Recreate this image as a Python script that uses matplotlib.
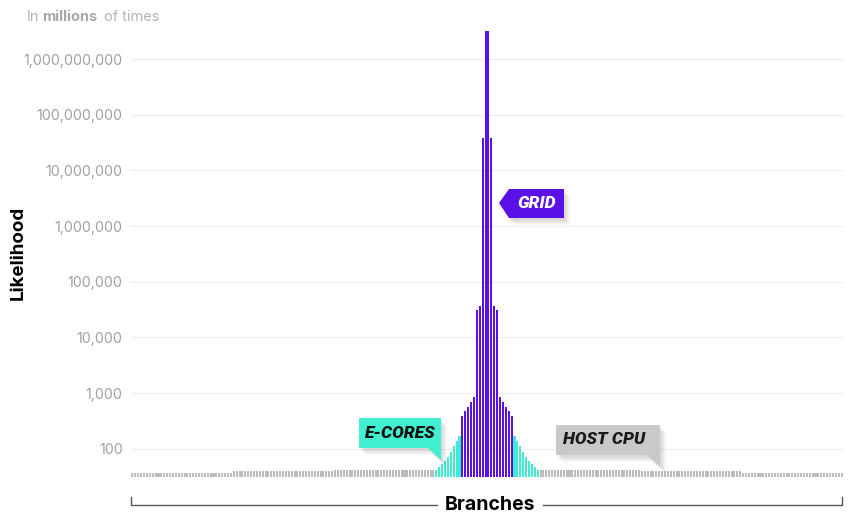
import numpy as np
import matplotlib.pyplot as plt
from matplotlib.patches import Polygon
from matplotlib.lines import Line2D
from matplotlib.ticker import NullLocator

# host CPU flank: levels (inner -> outer), each held for a run of branches
host_levels = [41.5, 39, 37]
host_counts = [35, 35, 35]
# e-cores ramp, outer -> inner
ecores_left = [42, 47, 54, 61, 72, 88, 113, 139, 171]
# grid core, left ramp + centre + right ramp
grid_ramp_left = [390, 470, 560, 700, 860]
grid_centre = [31000, 36000, 39000000, 3200000000, 3200000000, 39000000, 36000, 31000]

yticks = [100, 1000, 10000, 100000, 1000000, 10000000, 100000000, 1000000000]

host_left = np.repeat(host_levels[::-1], host_counts[::-1])
host_right = np.repeat(host_levels, host_counts)
grid_vals = grid_ramp_left + grid_centre + grid_ramp_left[::-1]
values = np.concatenate([host_left, ecores_left, grid_vals, ecores_left[::-1], host_right])

c_host, c_ecore, c_grid = "#bcbcbc", "#3eedcf", "#5b10e8"
colors = ([c_host] * len(host_left) + [c_ecore] * len(ecores_left) + [c_grid] * len(grid_vals)
          + [c_ecore] * len(ecores_left) + [c_host] * len(host_right))

W, H = 854, 527
fig = plt.figure(figsize=(W / 100, H / 100), dpi=100)
ax = fig.add_axes([131 / W, 1 - 477 / H, 712 / W, 446 / H])


def px(x, y):
    return (x / W, 1 - y / H)


ax.set_yscale("log")
n = len(values)
x = np.arange(n)
ax.bar(x, values - 1, bottom=1, width=0.7, color=colors, linewidth=0, zorder=2)
ax.set_xlim(-0.5, n - 0.5)
ax.set_ylim(31, 3.2e9)
ax.set_yticks(yticks)
ax.set_yticklabels([f"{t:,}" for t in yticks])
ax.yaxis.set_minor_locator(NullLocator())
ax.set_xticks([])
ax.tick_params(axis="y", length=0, pad=6, labelsize=10.3, labelcolor="#a0a0a0")
for lab in ax.get_yticklabels():
    lab.set_fontfamily("Inter")
ax.yaxis.grid(True, color="#eeeeee", lw=0.8)
ax.set_axisbelow(True)
for s in ax.spines.values():
    s.set_visible(False)

# titles
fig.text(*px(27, 17), "In", fontsize=10.5, color="#b4b4b4", family="Inter", va="center")
fig.text(*px(42, 17), "millions", fontsize=10.5, color="#a8a8a8", family="Inter",
         weight="bold", va="center")
fig.text(*px(104, 17), "of times", fontsize=10.5, color="#b4b4b4", family="Inter", va="center")
fig.text(*px(18, 253), "Likelihood", rotation=90, fontsize=13.5, weight="bold",
         family="Inter", ha="center", va="center")
fig.text(*px(490, 505), "Branches", fontsize=14, weight="bold", family="Inter",
         ha="center", va="center")

# bracket
for seg in [[(131, 497), (131, 505), (437, 505)], [(543, 505), (842, 505), (842, 497)]]:
    xs, ys = zip(*[px(a, b) for a, b in seg])
    fig.add_artist(Line2D(xs, ys, color="#555555", lw=1, transform=fig.transFigure))


def badge(pts, color, text, center, tcolor):
    for k, a in [(6, 0.04), (4, 0.05), (2, 0.06)]:
        sh = [px(a_ + k, b_ + k + 1) for a_, b_ in pts]
        fig.add_artist(Polygon(sh, closed=True, facecolor="black", alpha=a, lw=0,
                               transform=fig.transFigure))
    fig.add_artist(Polygon([px(a_, b_) for a_, b_ in pts], closed=True, facecolor=color,
                           lw=0, transform=fig.transFigure))
    fig.text(*px(*center), text, color=tcolor, fontsize=12.5, weight="heavy", style="italic",
             family=["Roboto", "DejaVu Sans"], ha="center", va="center")


badge([(499, 203), (509, 189), (564, 189), (564, 218), (509, 218)], c_grid, "GRID",
      (537, 204), "white")
badge([(359, 418), (441, 418), (441, 460), (428, 448), (359, 448)], "#40f0d0", "E-CORES",
      (400, 434), "#111111")
badge([(556, 425), (660, 425), (660, 466), (647, 455), (556, 455)], "#c9c9c9", "HOST CPU",
      (604, 440), "#1a1a1a")

fig.savefig("out.png", dpi=100)
